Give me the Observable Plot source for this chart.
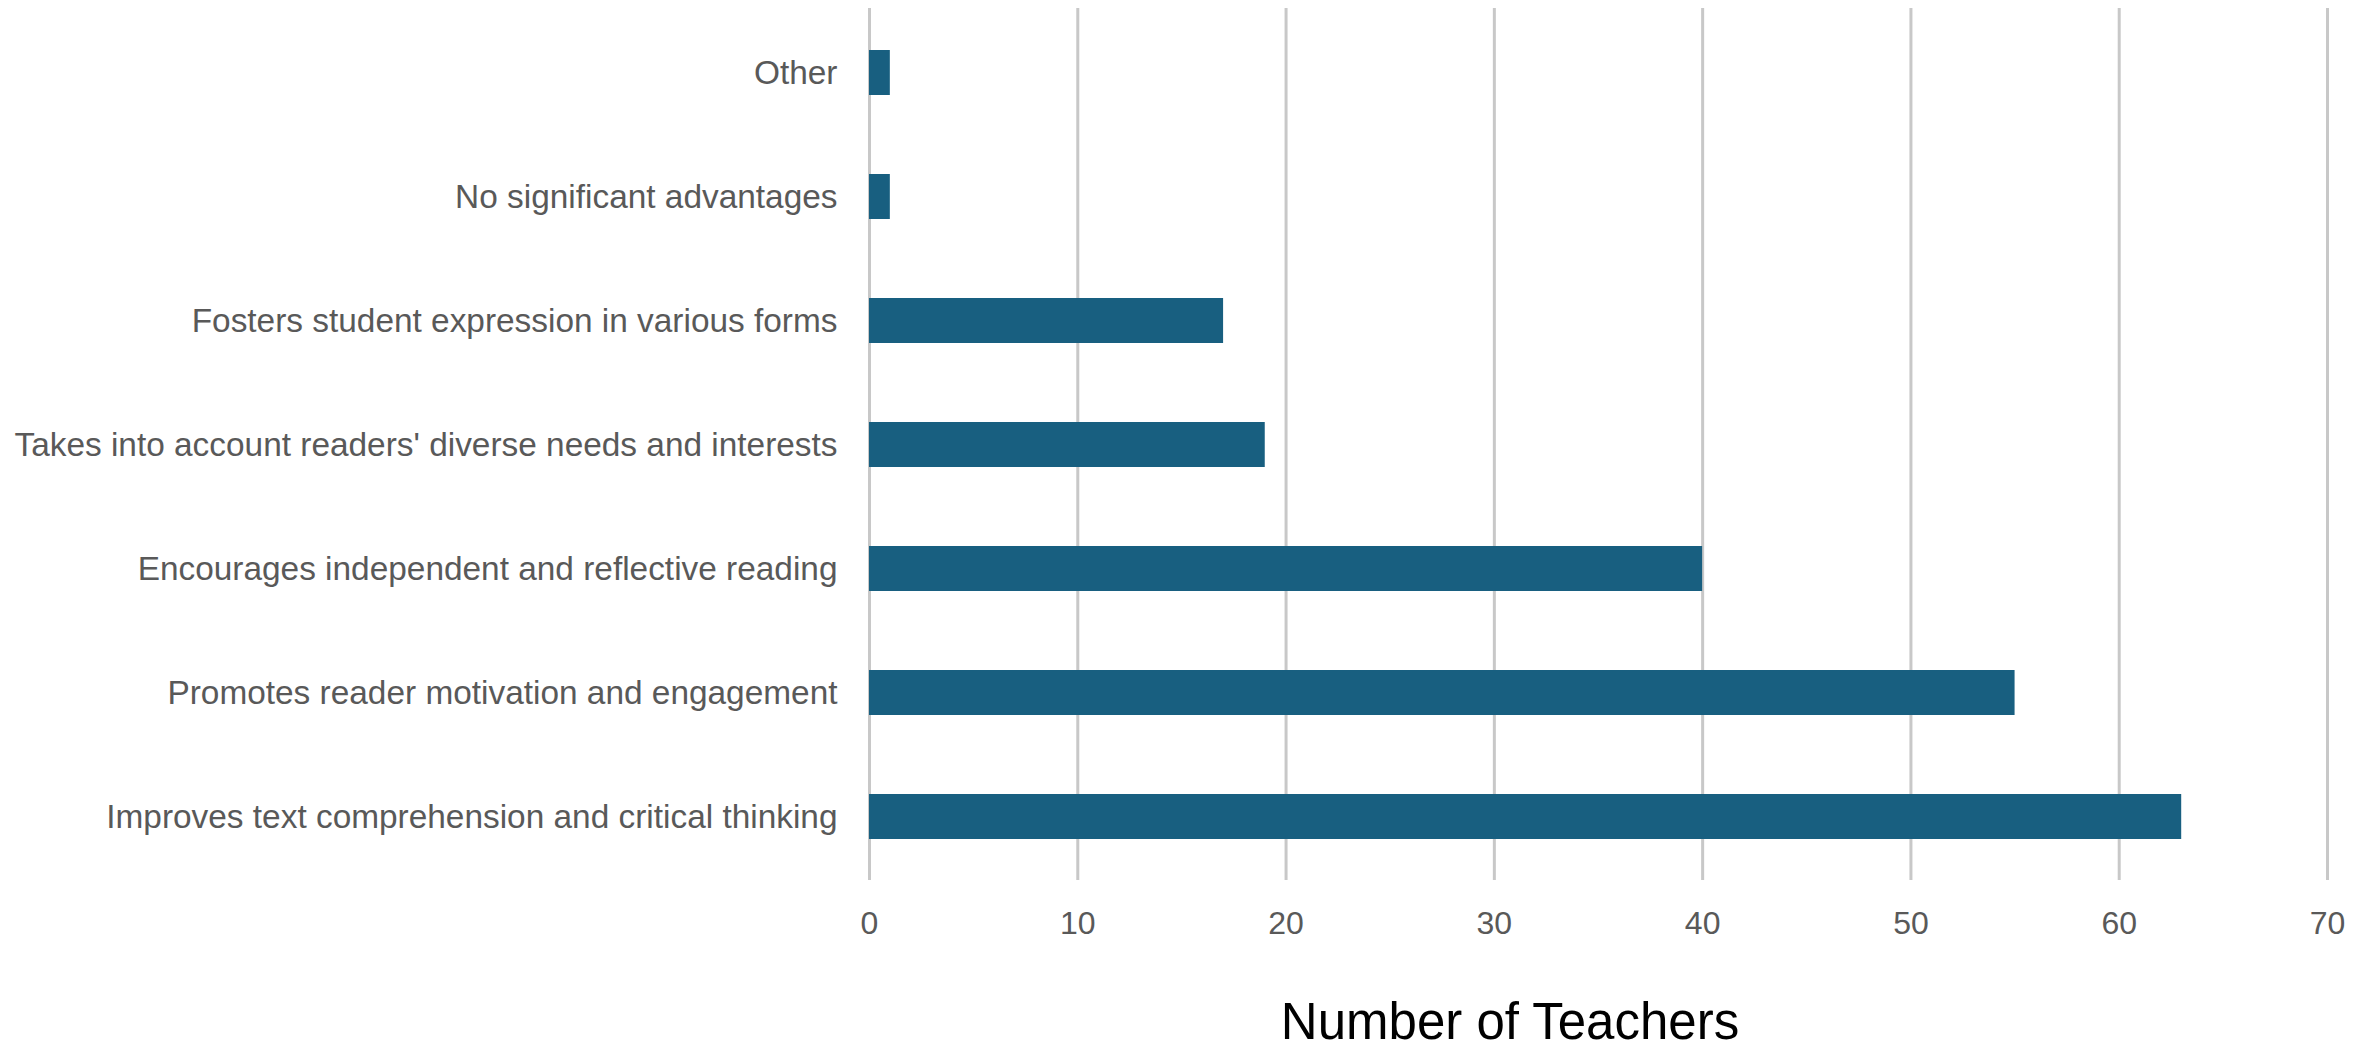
<!DOCTYPE html>
<html>
<head>
<meta charset="utf-8">
<script src="https://cdn.jsdelivr.net/npm/d3@7"></script>
<script src="https://cdn.jsdelivr.net/npm/@observablehq/plot@0.6"></script>
<style>
  html, body { margin: 0; padding: 0; background: #ffffff; }
  #wrap { position: relative; width: 2374px; height: 1054px; overflow: hidden; }
  #xtitle { position: absolute; left: 1510px; top: 999px; transform: translateX(-50%);
    font-family: "Liberation Sans", Arial, sans-serif; font-size: 51px; line-height: 46px;
    color: #000000; white-space: nowrap; }
</style>
</head>
<body>
<div id="wrap"><div id="chart"></div><div id="xtitle"></div></div>
<script>
const categories = [
  "Other",
  "No significant advantages",
  "Fosters student expression in various forms",
  "Takes into account readers' diverse needs and interests",
  "Encourages independent and reflective reading",
  "Promotes reader motivation and engagement",
  "Improves text comprehension and critical thinking"
];
const values = [1, 1, 17, 19, 40, 55, 63];
const xTicks = [0, 10, 20, 30, 40, 50, 60, 70];
const xTitle = "Number of Teachers";

const data = categories.map((c, i) => ({category: c, value: values[i]}));

const chart = Plot.plot({
  width: 2374,
  height: 950,
  marginLeft: 869,
  marginRight: 47,
  marginTop: 8,
  marginBottom: 70,
  style: {fontFamily: "Liberation Sans, Arial, sans-serif", fontSize: "31px", color: "#595959", background: "#ffffff", overflow: "visible"},
  x: {domain: [0, 70], ticks: xTicks, label: null},
  y: {domain: categories, paddingInner: 0.64, paddingOuter: 0.32, label: null},
  marks: [
    Plot.gridX(xTicks, {stroke: "#c8c8c8", strokeOpacity: 1, strokeWidth: 3}),
    Plot.barX(data, {x: "value", y: "category", fill: "#185f80"}),
    Plot.axisX({ticks: xTicks, tickSize: 0, tickPadding: 31, label: null, fill: "#595959", fontSize: 32}),
    Plot.axisY({tickSize: 0, tickPadding: 32, label: null, fill: "#595959", fontSize: 33.4})
  ]
});
document.getElementById("chart").appendChild(chart);
document.getElementById("xtitle").textContent = xTitle;
</script>
</body>
</html>
